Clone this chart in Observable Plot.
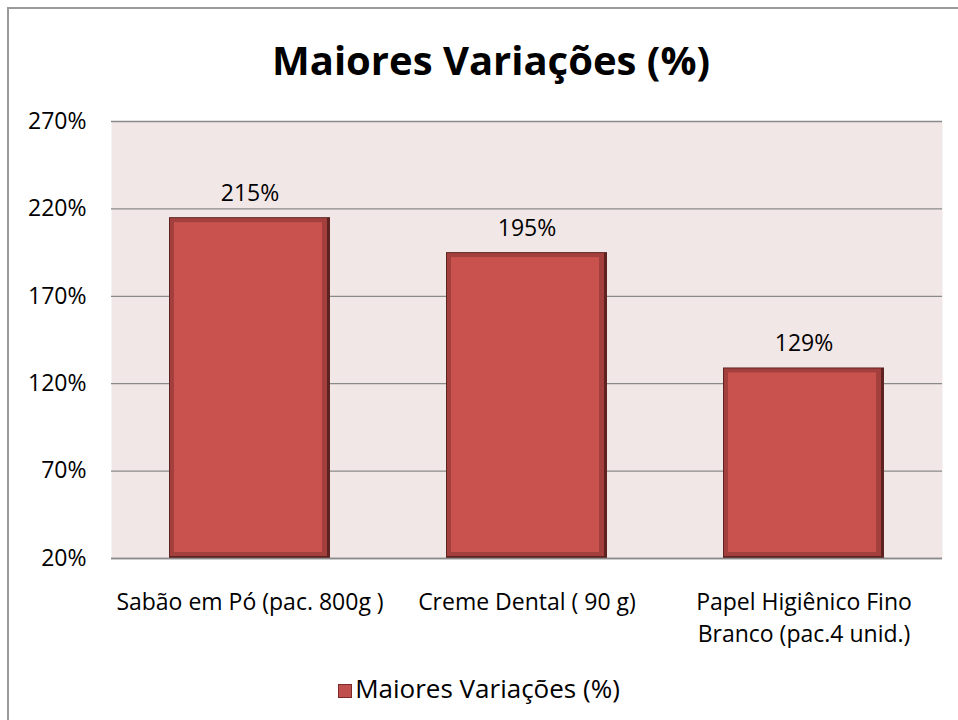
<!DOCTYPE html>
<html>
<head>
<meta charset="utf-8">
<script src="https://cdn.jsdelivr.net/npm/d3@7"></script>
<script src="https://cdn.jsdelivr.net/npm/@observablehq/plot@0.6"></script>
<style>
  html, body { margin: 0; padding: 0; background: #fff; }
  #wrap { position: relative; width: 958px; height: 720px; overflow: hidden; font-family: "Open Sans", Lato, sans-serif; color: #000; }
  #frame { position: absolute; left: 7px; top: 7px; width: 1000px; height: 1000px; border-left: 2px solid #9a9a9a; border-top: 2px solid #9a9a9a; box-sizing: border-box; }
  #title { position: absolute; left: 12px; top: 40px; width: 958px; text-align: center; font-weight: 700; font-size: 40px; line-height: 1; white-space: nowrap; }
  #chart { position: absolute; left: 0; top: 100px; }
  #legend { position: absolute; left: 0; top: 675px; width: 958px; text-align: center; font-size: 26px; line-height: 1; white-space: nowrap; }
  #legend .sw { display: inline-block; width: 12px; height: 12px; background: #C0504D; border: 1px solid #7d2b29; vertical-align: 0px; margin-right: 3px; }
</style>
</head>
<body>
<div id="wrap">
  <div id="frame"></div>
  <div id="title"></div>
  <div id="chart"></div>
  <div id="legend"></div>
</div>
<script>
const chartTitle = "Maiores Variações (%)";
const seriesName = "Maiores Variações (%)";
const categories = ["Sabão em Pó (pac. 800g )", "Creme Dental ( 90 g)", "Papel Higiênico Fino\nBranco (pac.4 unid.)"];
const values = [215, 195, 129];
const yTicks = [20, 70, 120, 170, 220, 270];
const baseline = 20;

document.getElementById("title").textContent = chartTitle;
document.getElementById("legend").innerHTML = '<span class="sw"></span>' + seriesName;

const data = categories.map((c, i) => ({category: c, value: values[i]}));

const chart = Plot.plot({
  width: 958,
  height: 540,
  marginLeft: 111,
  marginRight: 16,
  marginTop: 21,
  marginBottom: 82,
  style: {fontFamily: "'Open Sans', Lato, sans-serif", fontSize: "23px", color: "#000", background: "transparent", overflow: "visible"},
  x: {domain: categories, paddingInner: 0.42, paddingOuter: 0.21, label: null},
  y: {domain: [20, 270], label: null},
  marks: [
    Plot.frame({fill: "#F2E7E7", stroke: null}),
    Plot.gridY(yTicks, {stroke: "#8a8a8a", strokeOpacity: 1, strokeWidth: 1.3}),
    Plot.barY(data, {x: "category", y1: baseline, y2: "value", fill: "#5e2321"}),
    Plot.barY(data, {x: "category", y1: baseline, y2: "value", fill: "#a3403d", insetLeft: 1, insetRight: 3, insetTop: 1, insetBottom: 2}),
    Plot.barY(data, {x: "category", y1: baseline, y2: "value", fill: "#C9524F", insetLeft: 5, insetRight: 8, insetTop: 5, insetBottom: 6}),
    Plot.text(data, {x: "category", y: "value", text: d => d.value + "%", dy: -24, fontSize: 23, fill: "#000"}),
    Plot.axisY(yTicks, {tickFormat: d => d + "%", tickSize: 0, tickPadding: 25, fontSize: 23, textAnchor: "end"}),
    Plot.axisX({tickSize: 0, tickPadding: 29, fontSize: 23, lineHeight: 1.39}),
    Plot.ruleY([baseline], {stroke: "#8a8a8a", strokeWidth: 1.5})
  ]
});
document.getElementById("chart").appendChild(chart);
</script>
</body>
</html>
